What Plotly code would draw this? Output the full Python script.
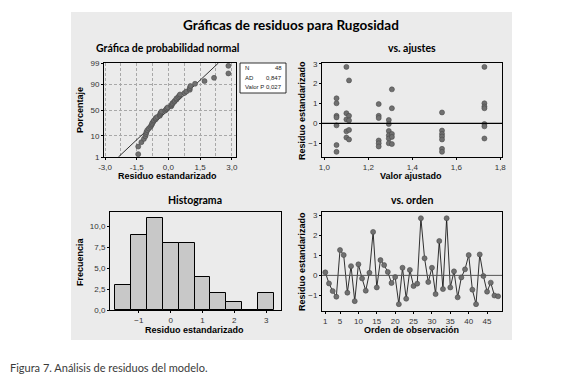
import plotly.graph_objects as go
from statistics import NormalDist
import numpy as np

# ---------------- data ----------------
obs_order = list(range(1, 49))
residuals = [0.15, -0.40, -0.78, -1.06, 1.26, 1.01, -0.86, 0.46, -1.28, 0.55,
             -0.15, -0.76, 0.13, 2.16, -0.60, 0.76, 0.51, 0.17, -0.38, -0.08,
             -1.43, 0.38, -1.16, 0.27, -0.53, -0.41, 2.84, 0.85, -0.33, 0.38,
             -0.93, 1.71, -0.68, 2.84, -0.60, 0.20, -1.09, -0.10, 0.30, 1.01,
             -0.71, -1.43, 1.04, -0.03, -0.81, -0.36, -1.00, -1.04]

fit_values = [1.055, 1.055, 1.055, 1.055, 1.055, 1.055, 1.055,
              1.100, 1.100, 1.100, 1.100, 1.100,
              1.112, 1.112, 1.112, 1.112, 1.112,
              1.247, 1.247, 1.247, 1.247, 1.247, 1.247,
              1.293, 1.293, 1.293, 1.293, 1.293, 1.293,
              1.307, 1.307, 1.307, 1.307, 1.307,
              1.535, 1.535, 1.535, 1.535, 1.535, 1.535, 1.535,
              1.728, 1.728, 1.728, 1.728, 1.728, 1.728, 1.728]
fit_resid = [1.26, 1.01, 0.38, 0.30, -0.10, -1.09, -1.43,
             2.84, 0.51, 0.20, -0.40, -0.71,
             2.16, 0.38, 0.15, -0.33, -0.81,
             0.97, 0.38, 0.27, -0.86, -1.00, -1.16,
             0.17, -0.03, -0.38, -0.60, -0.76, -1.00,
             1.71, 0.76, -0.53, -0.68, -1.04,
             0.55, -0.36, -0.53, -0.66, -0.81, -1.28, -1.43,
             2.84, 1.01, 0.85, 0.76, -0.03, -0.15, -0.76]

hist_centers = [-1.5, -1.0, -0.5, 0.0, 0.5, 1.0, 1.5, 2.0, 2.5, 3.0]
hist_counts = [3, 9, 11, 8, 8, 4, 2, 1, 0, 2]

pct_ticks = [1, 10, 50, 90, 99]
npp_xticks = [-3.0, -1.5, 0.0, 1.5, 3.0]
npp_xlabels = ["-3,0", "-1,5", "0,0", "1,5", "3,0"]
fit_xticks = [1.0, 1.2, 1.4, 1.6, 1.8]
fit_xlabels = ["1,0", "1,2", "1,4", "1,6", "1,8"]
hist_yticks = [0, 2.5, 5, 7.5, 10]
hist_ylabels = ["0,0", "2,5", "5,0", "7,5", "10,0"]
order_xticks = [1, 5, 10, 15, 20, 25, 30, 35, 40, 45]
resid_ticks = [-1, 0, 1, 2, 3]
stats_rows = [("N", "48"), ("AD", "0,847"), ("Valor P", "0,027")]

# ---------------- geometry helpers ----------------
W, H = 582, 381
def fx(px): return px / W
def fy(py): return 1 - py / H

TITLEF = "Lato, Liberation Sans, sans-serif"
LABF = "Liberation Sans, Arial, sans-serif"
REG = "Liberation Sans, Arial, sans-serif"
TICKF = dict(family=REG, size=8, color="#333333")
MK = dict(size=5, color="#707070", line=dict(color="#4a4a4a", width=0.6))
GRID = dict(griddash="3px,2px", gridcolor="#a8a8a8", gridwidth=0.8)

nd = NormalDist()
zt = [nd.inv_cdf(p / 100) for p in pct_ticks]

n = len(residuals)
srt = sorted(residuals)
probs = [(i - 0.3) / (n + 0.4) for i in range(1, n + 1)]
zs = [nd.inv_cdf(p) for p in probs]
mu, sd = float(np.mean(residuals)), float(np.std(residuals, ddof=1))
zl = [zt[0], zt[-1]]
xl = [mu + sd * z for z in zl]

fig = go.Figure()

fig.add_trace(go.Scatter(x=xl, y=zl, mode="lines", line=dict(color="black", width=0.8),
                         xaxis="x", yaxis="y", showlegend=False, hoverinfo="skip"))
fig.add_trace(go.Scatter(x=srt, y=zs, mode="markers", marker=MK, xaxis="x", yaxis="y", showlegend=False))

fig.add_trace(go.Scatter(x=fit_values, y=fit_resid, mode="markers", marker=MK,
                         xaxis="x2", yaxis="y2", showlegend=False))

fig.add_trace(go.Bar(x=hist_centers, y=hist_counts, width=0.5,
                     marker=dict(color="#c8c8c8", line=dict(color="black", width=1)),
                     xaxis="x3", yaxis="y3", showlegend=False))

fig.add_trace(go.Scatter(x=obs_order, y=residuals, mode="lines+markers",
                         line=dict(color="black", width=0.8), marker=MK,
                         xaxis="x4", yaxis="y4", showlegend=False))

ax_common = dict(showline=True, linecolor="black", linewidth=1, mirror=True, ticks="outside",
                 ticklen=2, tickcolor="black", tickfont=TICKF, zeroline=False, automargin=False)

fig.update_layout(
    width=W, height=H, margin=dict(l=0, r=0, t=0, b=0),
    paper_bgcolor="white", plot_bgcolor="white",
    xaxis=dict(domain=[fx(104), fx(236)], range=[-3.05, 3.2], tickvals=npp_xticks,
               ticktext=npp_xlabels, showgrid=True, **GRID,
               minor=dict(tickvals=[-2.25, -0.75, 0.75, 2.25], showgrid=True, ticks="", **GRID),
               **ax_common),
    yaxis=dict(domain=[fy(157), fy(63)], range=[zt[0], zt[-1]], tickvals=zt,
               ticktext=[str(p) for p in pct_ticks], showgrid=True, **GRID, anchor="x",
               **ax_common),
    xaxis2=dict(domain=[fx(322), fx(502)], range=[0.989, 1.808], tickvals=fit_xticks,
                ticktext=fit_xlabels, anchor="y2", showgrid=False, **ax_common),
    yaxis2=dict(domain=[fy(157), fy(63)], range=[-1.69, 3.035], tickvals=resid_ticks,
                anchor="x2", showgrid=False, **ax_common),
    xaxis3=dict(domain=[fx(110), fx(281)], range=[-1.906, 3.466], tickvals=[-1, 0, 1, 2, 3],
                anchor="y3", showgrid=False, **ax_common),
    yaxis3=dict(domain=[fy(310), fy(212)], range=[0, 11.76], tickvals=hist_yticks,
                ticktext=hist_ylabels, anchor="x3", showgrid=False, **ax_common),
    xaxis4=dict(domain=[fx(322), fx(502)], range=[0.1, 49.06], tickvals=order_xticks,
                anchor="y4", showgrid=False, **ax_common),
    yaxis4=dict(domain=[fy(311), fy(212)], range=[-1.77, 3.15], tickvals=resid_ticks,
                anchor="x4", showgrid=False, **ax_common),
    bargap=0,
)

shapes = [
    dict(type="rect", xref="paper", yref="paper", x0=fx(71), x1=fx(512), y0=fy(340), y1=fy(12),
         fillcolor="#ebebeb", line=dict(width=0), layer="below"),
    dict(type="line", xref="x2", yref="y2", x0=0.989, x1=1.808, y0=0, y1=0,
         line=dict(color="black", width=1.3)),
    dict(type="line", xref="x4", yref="y4", x0=0.1, x1=49.06, y0=0, y1=0,
         line=dict(color="#555555", width=1)),
    dict(type="rect", xref="paper", yref="paper", x0=fx(240), x1=fx(286), y0=fy(93), y1=fy(63),
         fillcolor="white", line=dict(color="black", width=0.8)),
]
fig.update_layout(shapes=shapes)

ann = []
def A(text, x, y, size, bold=True, angle=0, family=LABF, xanchor="center", color="black"):
    ann.append(dict(text=(f"<b>{text}</b>" if bold else text), x=fx(x), y=fy(y), xref="paper",
                    yref="paper", showarrow=False, xanchor=xanchor, yanchor="middle",
                    textangle=angle, font=dict(family=family, size=size, color=color)))

A("Gráficas de residuos para Rugosidad", 291, 25, 13.5, family=TITLEF)
A("Gráfica de probabilidad normal", 168, 48, 10.5, family=TITLEF)
A("vs. ajustes", 412, 48, 10.5, family=TITLEF)
A("Histograma", 195, 200, 10.5, family=TITLEF)
A("vs. orden", 412, 200, 10.5, family=TITLEF)
A("Residuo estandarizado", 168, 176.5, 9)
A("Valor ajustado", 411, 176.5, 9)
A("Residuo estandarizado", 195, 330, 9)
A("Orden de observación", 411.5, 330, 9)
A("Porcentaje", 80, 110, 9, angle=-90)
A("Residuo estandarizado", 302, 111, 9, angle=-90)
A("Frecuencia", 80, 262, 9, angle=-90)
A("Residuo estandarizado", 302, 262, 9, angle=-90)
for i, (k, v) in enumerate(stats_rows):
    yy = 68 + i * 9.7
    A(k, 243, yy, 6, bold=False, family=REG, xanchor="left", color="#222")
    A(v, 284, yy, 6, bold=False, family=REG, xanchor="right", color="#222")
A("Figura 7. Análisis de residuos del modelo.", 8, 367, 11, bold=False,
  family="Lato, sans-serif", xanchor="left", color="#3a3a3a")
fig.update_layout(annotations=ann)

fig.write_html("out.html", config=dict(displayModeBar=False),
               post_script="document.body.style.margin='0';document.body.style.overflow='hidden';")
